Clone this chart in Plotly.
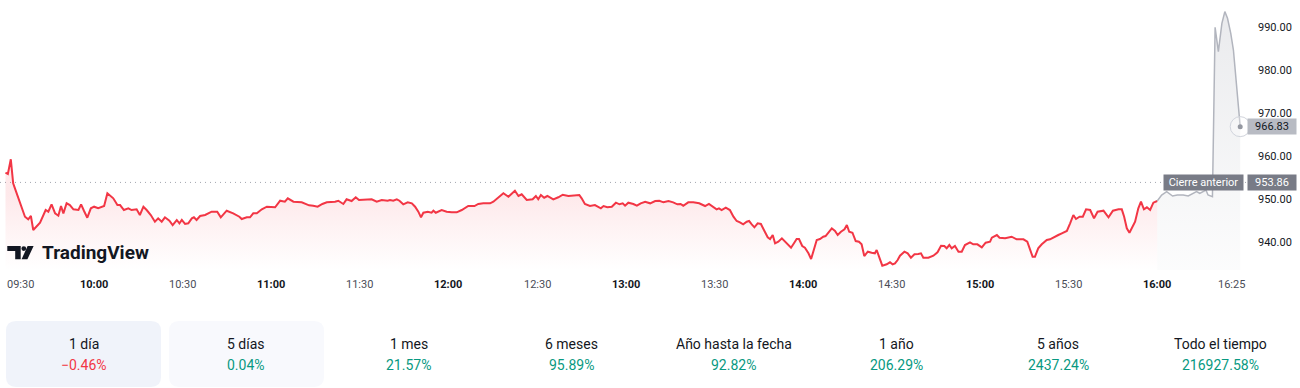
import plotly.graph_objects as go

# ---------------- data ----------------
# (minutes after 09:30, price)
session = [
    (0.0, 956.12), (0.8, 955.81), (1.8, 959.23), (2.6, 953.65), (3.2, 952.49), (4.9, 948.99),
    (6.6, 945.88), (7.7, 945.28), (8.6, 946.05), (9.4, 942.79), (10.6, 943.72), (11.7, 944.49),
    (13.6, 947.44), (14.5, 947.05), (15.6, 948.77), (16.8, 946.67), (17.9, 946.12), (18.8, 948.37),
    (19.6, 946.67), (20.7, 949.00), (21.8, 948.60), (23.0, 947.60), (24.7, 947.44), (25.6, 948.77),
    (26.6, 947.21), (27.7, 945.65), (28.9, 947.84), (30.0, 948.21), (31.4, 947.84), (33.4, 948.37),
    (34.5, 951.33), (36.5, 950.16), (37.9, 948.60), (38.8, 948.60), (40.1, 947.44), (41.6, 947.84),
    (42.7, 947.44), (44.4, 947.60), (45.5, 946.28), (46.7, 948.21), (47.8, 947.44), (49.2, 946.28),
    (50.6, 944.72), (51.7, 945.51), (52.9, 944.72), (54.0, 945.74), (55.5, 944.95), (56.6, 943.95),
    (58.0, 945.12), (58.9, 944.35), (59.7, 945.12), (60.8, 944.19), (61.9, 944.35), (63.1, 945.51),
    (63.8, 945.74), (64.7, 945.12), (65.9, 946.05), (67.6, 946.28), (69.8, 947.05), (71.7, 947.05),
    (72.9, 945.74), (74.9, 947.28), (77.1, 946.67), (79.2, 945.88), (80.0, 945.35), (81.7, 945.74),
    (82.8, 945.74), (83.9, 946.67), (85.1, 946.67), (86.8, 947.60), (88.5, 948.21), (90.1, 948.21),
    (91.3, 948.07), (93.0, 949.60), (94.6, 949.37), (95.6, 950.16), (97.5, 949.37), (100.3, 949.23),
    (101.4, 949.00), (102.8, 948.53), (104.2, 948.44), (105.7, 948.21), (107.3, 948.84), (108.8, 949.23),
    (111.6, 949.37), (112.7, 949.60), (114.4, 948.84), (115.5, 949.93), (117.2, 949.53), (118.6, 950.40),
    (119.7, 949.77), (121.7, 949.77), (124.0, 949.93), (125.7, 949.37), (127.4, 949.77), (129.4, 949.60),
    (130.2, 949.77), (131.3, 949.60), (132.5, 949.93), (133.4, 949.60), (134.7, 948.77), (136.2, 949.23),
    (137.6, 949.00), (138.7, 948.21), (139.8, 947.05), (140.7, 945.74), (141.5, 946.81), (143.0, 947.05),
    (144.3, 946.81), (144.9, 947.28), (145.7, 946.81), (147.7, 947.44), (149.4, 947.05), (151.1, 946.91),
    (152.8, 946.91), (154.5, 947.44), (156.7, 948.37), (158.8, 948.37), (160.1, 948.84), (161.8, 949.00),
    (164.1, 949.00), (165.2, 949.37), (166.9, 950.40), (168.6, 951.33), (170.3, 950.53), (171.4, 951.33),
    (172.5, 951.93), (173.7, 950.70), (174.8, 951.09), (176.5, 949.77), (178.5, 949.93), (179.6, 950.70),
    (180.4, 949.93), (181.3, 950.93), (182.4, 950.30), (183.5, 950.70), (185.5, 949.93), (187.2, 950.40),
    (188.7, 951.00), (190.6, 950.70), (192.3, 950.77), (194.3, 950.93), (195.1, 950.16), (196.2, 948.84),
    (197.9, 948.37), (199.6, 948.60), (201.6, 947.84), (202.5, 948.37), (203.8, 948.07), (205.3, 948.21),
    (206.7, 949.14), (207.9, 948.77), (209.0, 949.00), (209.8, 948.44), (210.9, 949.14), (212.6, 948.84),
    (213.8, 948.44), (215.1, 949.00), (216.6, 949.37), (218.3, 949.00), (220.0, 949.53), (221.4, 949.60),
    (222.8, 949.23), (224.5, 949.53), (226.1, 949.23), (227.5, 948.77), (228.6, 948.84), (229.5, 948.44),
    (231.2, 949.23), (232.9, 949.23), (234.9, 949.00), (236.9, 948.37), (238.2, 948.84), (239.4, 948.21),
    (240.8, 947.60), (241.6, 947.84), (242.5, 947.44), (243.9, 947.98), (245.3, 947.44), (246.5, 945.88),
    (247.6, 944.88), (248.7, 944.58), (249.8, 944.12), (251.0, 944.72), (251.8, 944.88), (252.7, 944.12),
    (253.6, 943.42), (254.7, 944.35), (255.8, 944.19), (257.0, 942.56), (258.1, 941.09), (258.9, 940.70),
    (259.8, 941.63), (260.6, 939.70), (261.7, 940.07), (262.9, 940.86), (264.0, 940.07), (265.1, 939.46),
    (266.0, 938.67), (267.1, 939.84), (267.9, 940.70), (268.7, 940.70), (269.8, 939.07), (270.7, 938.67),
    (271.9, 937.37), (272.8, 936.04), (273.6, 938.14), (274.7, 940.47), (275.8, 940.70), (276.9, 941.23),
    (277.7, 941.39), (278.9, 942.39), (279.8, 943.18), (280.9, 942.56), (281.8, 941.63), (282.9, 942.39),
    (284.1, 942.95), (284.9, 943.95), (285.7, 942.39), (286.8, 942.16), (287.9, 940.23), (289.0, 940.07),
    (289.9, 939.46), (290.8, 936.74), (292.0, 937.74), (293.3, 937.51), (294.4, 937.37), (295.0, 938.14),
    (295.8, 936.58), (296.9, 934.49), (298.4, 934.81), (299.5, 935.28), (300.4, 934.81), (301.2, 935.04),
    (302.1, 935.81), (302.9, 936.81), (304.4, 937.74), (305.5, 937.37), (306.6, 936.35), (307.8, 937.14),
    (309.1, 937.21), (310.0, 937.37), (310.8, 936.35), (312.5, 936.35), (314.2, 936.81), (315.6, 937.60),
    (316.8, 939.14), (317.9, 939.07), (318.7, 938.53), (319.6, 939.30), (320.4, 938.53), (321.5, 939.07),
    (322.7, 937.74), (323.8, 937.74), (324.9, 939.30), (326.6, 939.93), (327.7, 939.46), (329.1, 939.46),
    (330.6, 938.77), (331.9, 939.84), (333.4, 940.07), (334.0, 941.00), (335.7, 941.63), (336.6, 941.00),
    (338.5, 940.86), (340.7, 941.23), (342.4, 940.63), (344.7, 940.63), (346.0, 940.07), (346.9, 938.53),
    (347.8, 936.58), (348.6, 936.58), (349.7, 938.53), (350.9, 939.46), (352.6, 940.47), (353.7, 940.63),
    (354.8, 941.09), (356.5, 941.63), (357.7, 942.02), (359.4, 942.56), (360.5, 944.35), (361.6, 946.28),
    (362.5, 945.35), (363.7, 945.88), (364.8, 945.88), (365.9, 947.60), (367.3, 947.44), (368.6, 945.51),
    (369.8, 947.05), (371.8, 947.28), (373.5, 945.74), (375.0, 947.28), (376.9, 947.60), (378.0, 947.60),
    (378.8, 945.88), (379.7, 943.18), (380.6, 942.16), (381.7, 943.56), (382.5, 944.72), (383.6, 947.84),
    (384.5, 949.37), (385.5, 947.60), (386.5, 948.07), (387.6, 947.44), (388.7, 949.14), (390.0, 949.53),
]

post_market = [
    (390.0, 949.53), (391.5, 950.93), (393.2, 951.70), (395.2, 950.70), (396.8, 950.93), (398.8, 950.93),
    (400.5, 950.70), (402.0, 951.16), (403.3, 951.70), (404.4, 951.33), (405.6, 951.70), (406.5, 952.09),
    (407.2, 950.93), (408.7, 950.53), (409.6, 989.93), (410.7, 984.26), (411.9, 990.86), (412.9, 993.57),
    (413.8, 992.02), (414.9, 988.53), (415.8, 984.65), (417.0, 975.35), (418.1, 966.83),
]

prev_close = 953.86
last_price = 966.83
y_ticks = [940, 950, 960, 970, 980, 990]
time_ticks = [0, 30, 60, 90, 120, 150, 180, 210, 240, 270, 300, 330, 360, 390, 415]
time_labels = ["09:30", "10:00", "10:30", "11:00", "11:30", "12:00", "12:30", "13:00",
               "13:30", "14:00", "14:30", "15:00", "15:30", "16:00", "16:25"]
periods = ["1 día", "5 días", "1 mes", "6 meses", "Año hasta la fecha", "1 año", "5 años", "Todo el tiempo"]
period_returns = [-0.46, 0.04, 21.57, 95.89, 92.82, 206.29, 2437.24, 216927.58]

# ---------------- geometry / style ----------------
W, H = 1300, 388
PLOT_W, PLOT_H = 1247, 270
X_RANGE = [-1.86, 420.4]
Y_RANGE = [933.49, 996.28]
RED = "#F23645"
GREEN = "#089981"
GREY_LINE = "#B2B5BE"
TEXT = "#131722"
FONT = "Roboto"


def fx(x):
    return x / PLOT_W


def fy(y):
    return (PLOT_H - y) / PLOT_H


def path_from(points, close=True):
    s = ""
    for i, (x, y) in enumerate(points):
        s += ("M" if i == 0 else "L") + f"{fx(x):.5f},{fy(y):.5f} "
    return s + ("Z" if close else "")


def rounded_rect(x0, y0, x1, y1, r):
    def p(x, y):
        return f"{fx(x):.5f},{fy(y):.5f}"
    return (f"M{p(x0 + r, y0)} L{p(x1 - r, y0)} Q{p(x1, y0)} {p(x1, y0 + r)} "
            f"L{p(x1, y1 - r)} Q{p(x1, y1)} {p(x1 - r, y1)} L{p(x0 + r, y1)} "
            f"Q{p(x0, y1)} {p(x0, y1 - r)} L{p(x0, y0 + r)} Q{p(x0, y0)} {p(x0 + r, y0)} Z")


fig = go.Figure()

sx = [t for t, _ in session]
sy = [p for _, p in session]
px_ = [t for t, _ in post_market]
py_ = [p for _, p in post_market]

fig.add_trace(go.Scatter(
    x=sx, y=sy, mode="lines", line=dict(color=RED, width=2),
    fill="tozeroy",
    fillgradient=dict(type="vertical",
                      colorscale=[[0, "rgba(242,54,69,0.0)"], [1, "rgba(242,54,69,0.11)"]],
                      start=Y_RANGE[0], stop=951),
    hoverinfo="skip"))

fig.add_trace(go.Scatter(
    x=px_, y=py_, mode="lines", line=dict(color=GREY_LINE, width=1.5),
    fill="tozeroy",
    fillgradient=dict(type="vertical",
                      colorscale=[[0, "rgba(178,181,190,0.04)"], [1, "rgba(178,181,190,0.28)"]],
                      start=Y_RANGE[0], stop=Y_RANGE[1]),
    hoverinfo="skip"))

# last price marker (ring + dot)
fig.add_trace(go.Scatter(
    x=[px_[-1]], y=[py_[-1]], mode="markers", cliponaxis=False,
    marker=dict(size=20, color="rgba(255,255,255,0.3)", line=dict(color="#D1D4DC", width=1)),
    hoverinfo="skip"))
fig.add_trace(go.Scatter(
    x=[px_[-1]], y=[py_[-1]], mode="markers", cliponaxis=False,
    marker=dict(size=5, color="#9598A1"), hoverinfo="skip"))

shapes = []
# previous close dotted line
shapes.append(dict(type="line", xref="x", yref="y", x0=X_RANGE[0], x1=X_RANGE[1],
                   y0=prev_close, y1=prev_close, layer="below",
                   line=dict(color="#A3A6AF", width=1, dash="1px,4px")))

# period tabs backgrounds
shapes.append(dict(type="path", xref="paper", yref="paper", layer="below",
                   path=rounded_rect(6, 321, 161, 387, 10), fillcolor="#F0F3FA", line=dict(width=0)))
shapes.append(dict(type="path", xref="paper", yref="paper", layer="below",
                   path=rounded_rect(169, 321, 324, 387, 10), fillcolor="#F8F9FD", line=dict(width=0)))

# TradingView logo
shapes.append(dict(type="path", xref="paper", yref="paper",
                   path=path_from([(7.3, 246), (20.7, 246), (20.7, 259.3), (15.2, 259.3), (15.2, 250.9), (7.3, 250.9)]),
                   fillcolor=TEXT, line=dict(width=0)))
shapes.append(dict(type="circle", xref="paper", yref="paper",
                   x0=fx(21.4), x1=fx(26.2), y0=fy(251.0), y1=fy(246.2),
                   fillcolor=TEXT, line=dict(width=0)))
shapes.append(dict(type="path", xref="paper", yref="paper",
                   path=path_from([(27.6, 246), (33.6, 246), (27.4, 259.3), (21.6, 259.3)]),
                   fillcolor=TEXT, line=dict(width=0)))

annotations = []
# time axis labels
for t, lab in zip(time_ticks, time_labels):
    bold = lab.endswith(":00") and lab != "09:30"
    annotations.append(dict(
        x=t, xref="x", y=0, yref="paper", yanchor="middle", yshift=-14,
        xanchor="left" if t == 0 else "center",
        text=f"<b>{lab}</b>" if bold else lab, showarrow=False,
        font=dict(family=FONT, size=11, color=TEXT if bold else "#4A4D57")))

# price labels
annotations.append(dict(x=1, xref="paper", xanchor="right", xshift=-3, y=prev_close, yref="y",
                        yanchor="middle", text="Cierre anterior", showarrow=False,
                        bgcolor="#787B86", width=77, height=13, borderpad=1,
                        font=dict(family=FONT, size=11, color="white")))
annotations.append(dict(x=1, xref="paper", xanchor="left", y=prev_close, yref="y",
                        yanchor="middle", text=f"{prev_close:.2f}", showarrow=False,
                        bgcolor="#787B86", width=46, height=13, borderpad=1,
                        font=dict(family=FONT, size=11, color="white")))
annotations.append(dict(x=1, xref="paper", xanchor="left", y=last_price, yref="y",
                        yanchor="middle", text=f"{last_price:.2f}", showarrow=False,
                        bgcolor="#B8BBC3", width=46, height=13, borderpad=1,
                        font=dict(family=FONT, size=11, color=TEXT)))

# TradingView wordmark
annotations.append(dict(x=fx(39.5), xref="paper", xanchor="left", y=fy(252.5), yref="paper",
                        yanchor="middle", text="<b>TradingView</b>", showarrow=False,
                        font=dict(family=FONT, size=19, color=TEXT)))

# period tabs
col0, col_step = 84, 162.4
for i, (name, ret) in enumerate(zip(periods, period_returns)):
    cx = col0 + i * col_step
    txt = (f"\u2212{abs(ret):.2f}%" if ret < 0 else f"{ret:.2f}%")
    annotations.append(dict(x=fx(cx), xref="paper", y=fy(343.5), yref="paper", xanchor="center",
                            yanchor="middle", text=name, showarrow=False,
                            font=dict(family=FONT, size=14, color=TEXT)))
    annotations.append(dict(x=fx(cx), xref="paper", y=fy(365), yref="paper", xanchor="center",
                            yanchor="middle", text=txt, showarrow=False,
                            font=dict(family=FONT, size=14, color=RED if ret < 0 else GREEN)))

fig.update_layout(
    width=W, height=H, autosize=False,
    margin=dict(l=0, r=W - PLOT_W, t=0, b=H - PLOT_H, pad=0),
    paper_bgcolor="white", plot_bgcolor="white",
    showlegend=False, hovermode=False,
    font=dict(family=FONT, color=TEXT),
    xaxis=dict(range=X_RANGE, showgrid=False, zeroline=False, showticklabels=False,
               showline=False, fixedrange=True),
    yaxis=dict(range=Y_RANGE, side="right", showgrid=False, zeroline=False, showline=False,
               tickvals=y_ticks, ticktext=[f"{v:.2f}" for v in y_ticks], ticks="",
               ticklabelstandoff=10, tickfont=dict(family=FONT, size=11, color=TEXT),
               fixedrange=True),
    shapes=shapes, annotations=annotations,
)

fig.write_html("out.html", config={"displayModeBar": False})
